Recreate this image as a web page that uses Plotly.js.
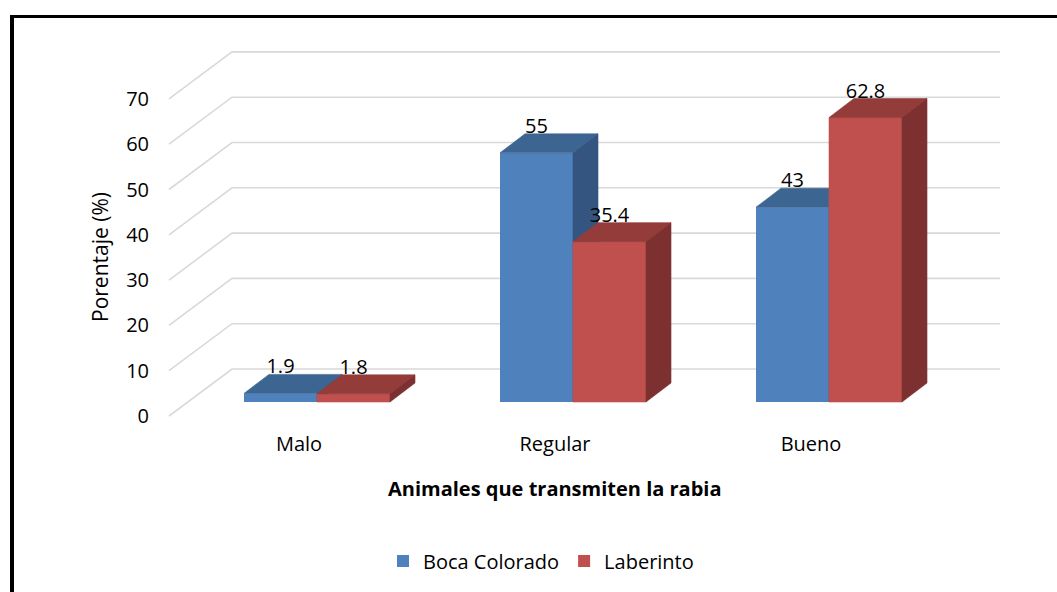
<!DOCTYPE html>
<html>
<head>
<meta charset="utf-8">
<script src="https://cdn.plot.ly/plotly-3.0.1.min.js"></script>
<style>
html,body{margin:0;padding:0;background:#fff;}
#wrap{position:relative;width:1057px;height:592px;overflow:hidden;}
#chart{width:1057px;height:592px;}
#frame{position:absolute;left:10px;top:15px;width:1200px;height:800px;border-left:4px solid #000;border-top:3px solid #000;pointer-events:none;}
</style>
</head>
<body>
<div id="wrap"><div id="chart"></div><div id="frame"></div></div>
<script>
// ---- data ----
const categories = ['Malo', 'Regular', 'Bueno'];
const bocaColorado = [1.9, 55, 43];
const laberinto = [1.8, 35.4, 62.8];
const seriesNames = ['Boca Colorado', 'Laberinto'];
const yTicks = [0, 10, 20, 30, 40, 50, 60, 70];
const xTitle = 'Animales que transmiten la rabia';
const yTitle = 'Porentaje (%)';

// ---- style / geometry (pixel-derived) ----
const PXX = 256;          // px per category
const PXY = 4.53;         // px per value unit
const barW = 73 / PXX;
const dX = 25 / PXX, dY = 19 / PXY;           // bar depth
const floorFrontX = -148 / PXX, floorBackX = -85 / PXX, wallRightX = 683 / PXX;
const floorFrontDy = -14 / PXY, floorBackDy = 33 / PXY;
const labelDy = 5.5;
const colors = {
  blue: {front: '#4F81BD', top: '#3D6591', side: '#33557F'},
  red:  {front: '#C0504D', top: '#933C3A', side: '#7C3130'}
};

const xs = categories.map((c, i) => i);
const traces = [];

// front faces as bars
traces.push({type: 'bar', name: seriesNames[0], x: xs, y: bocaColorado, width: barW, offset: -barW,
  marker: {color: colors.blue.front, line: {width: 0}}, hoverinfo: 'skip'});
traces.push({type: 'bar', name: seriesNames[1], x: xs, y: laberinto, width: barW, offset: 0,
  marker: {color: colors.red.front, line: {width: 0}}, hoverinfo: 'skip'});

function poly(px, py, color) {
  traces.push({type: 'scatter', mode: 'lines', x: px.concat([px[0]]), y: py.concat([py[0]]),
    fill: 'toself', fillcolor: color, line: {color: color, width: 0.6},
    showlegend: false, hoverinfo: 'skip'});
}
function topFace(x0, x1, v, c) {
  poly([x0, x1, x1 + dX, x0 + dX], [v, v, v + dY, v + dY], c);
}
function sideFace(x1, v, c) {
  poly([x1, x1, x1 + dX, x1 + dX], [0, v, v + dY, dY], c);
}
// blue 3D faces
xs.forEach((x, i) => {
  topFace(x - barW, x, bocaColorado[i], colors.blue.top);
  sideFace(x, bocaColorado[i], colors.blue.side);
});
// red front (re-drawn so it sits over the blue side faces) and its 3D faces
xs.forEach((x, i) => {
  const v = laberinto[i];
  poly([x, x + barW, x + barW, x], [0, 0, v, v], colors.red.front);
  topFace(x, x + barW, v, colors.red.top);
  sideFace(x + barW, v, colors.red.side);
});

// data labels (placed on the label axis y2, which is shifted by the floor offset)
traces.push({type: 'scatter', mode: 'text', yaxis: 'y2',
  x: xs.map(x => x - barW / 2).concat(xs.map(x => x + barW / 2)),
  y: bocaColorado.map(v => v + labelDy - floorFrontDy).concat(laberinto.map(v => v + labelDy - floorFrontDy)),
  text: bocaColorado.map(String).concat(laberinto.map(String)),
  textposition: 'middle center', textfont: {size: 20, color: '#000'},
  cliponaxis: false, showlegend: false, hoverinfo: 'skip'});

// gridlines: floor diagonal + back wall
const shapes = yTicks.map(t => ({
  type: 'path', xref: 'x', yref: 'y', layer: 'below',
  path: 'M' + floorFrontX + ',' + (t + floorFrontDy) +
        ' L' + floorBackX + ',' + (t + floorBackDy) +
        ' L' + wallRightX + ',' + (t + floorBackDy),
  line: {color: '#D9D9D9', width: 1.6}
}));

const yLo = -18 / PXY, yHi = 362 / PXY;
const layout = {
  width: 1057, height: 592,
  margin: {l: 150, r: 47, t: 40, b: 172},
  paper_bgcolor: '#fff', plot_bgcolor: 'rgba(0,0,0,0)',
  font: {family: '"Open Sans", sans-serif', size: 20, color: '#000'},
  barmode: 'overlay',
  showlegend: true,
  xaxis: {range: [-167 / PXX, 693 / PXX], tickvals: xs, ticktext: categories,
    showgrid: false, zeroline: false, showline: false, ticks: '',
    ticklabelshift: -18, ticklabelstandoff: 10, fixedrange: true},
  yaxis: {range: [yLo, yHi], visible: false, fixedrange: true},
  yaxis2: {overlaying: 'y', anchor: 'x', side: 'left',
    range: [yLo - floorFrontDy, yHi - floorFrontDy], tickvals: yTicks,
    showgrid: false, zeroline: false, showline: false, ticks: '', fixedrange: true},
  shapes: shapes,
  legend: {orientation: 'h', x: (541 - 150) / 860, xanchor: 'center',
    y: (420 - 561) / 380, yanchor: 'middle', font: {size: 20}, itemwidth: 30},
  annotations: [
    {text: '<b>' + xTitle + '</b>', xref: 'paper', yref: 'paper',
     x: (555 - 150) / 860, y: (420 - 488) / 380, xanchor: 'center', yanchor: 'middle',
     showarrow: false, font: {size: 20}},
    {text: yTitle, xref: 'paper', yref: 'paper', textangle: -90,
     x: (100 - 150) / 860, y: (420 - 257) / 380, xanchor: 'center', yanchor: 'middle',
     showarrow: false, font: {size: 21}}
  ]
};

Plotly.newPlot('chart', traces, layout, {displayModeBar: false, staticPlot: true});
</script>
</body>
</html>
